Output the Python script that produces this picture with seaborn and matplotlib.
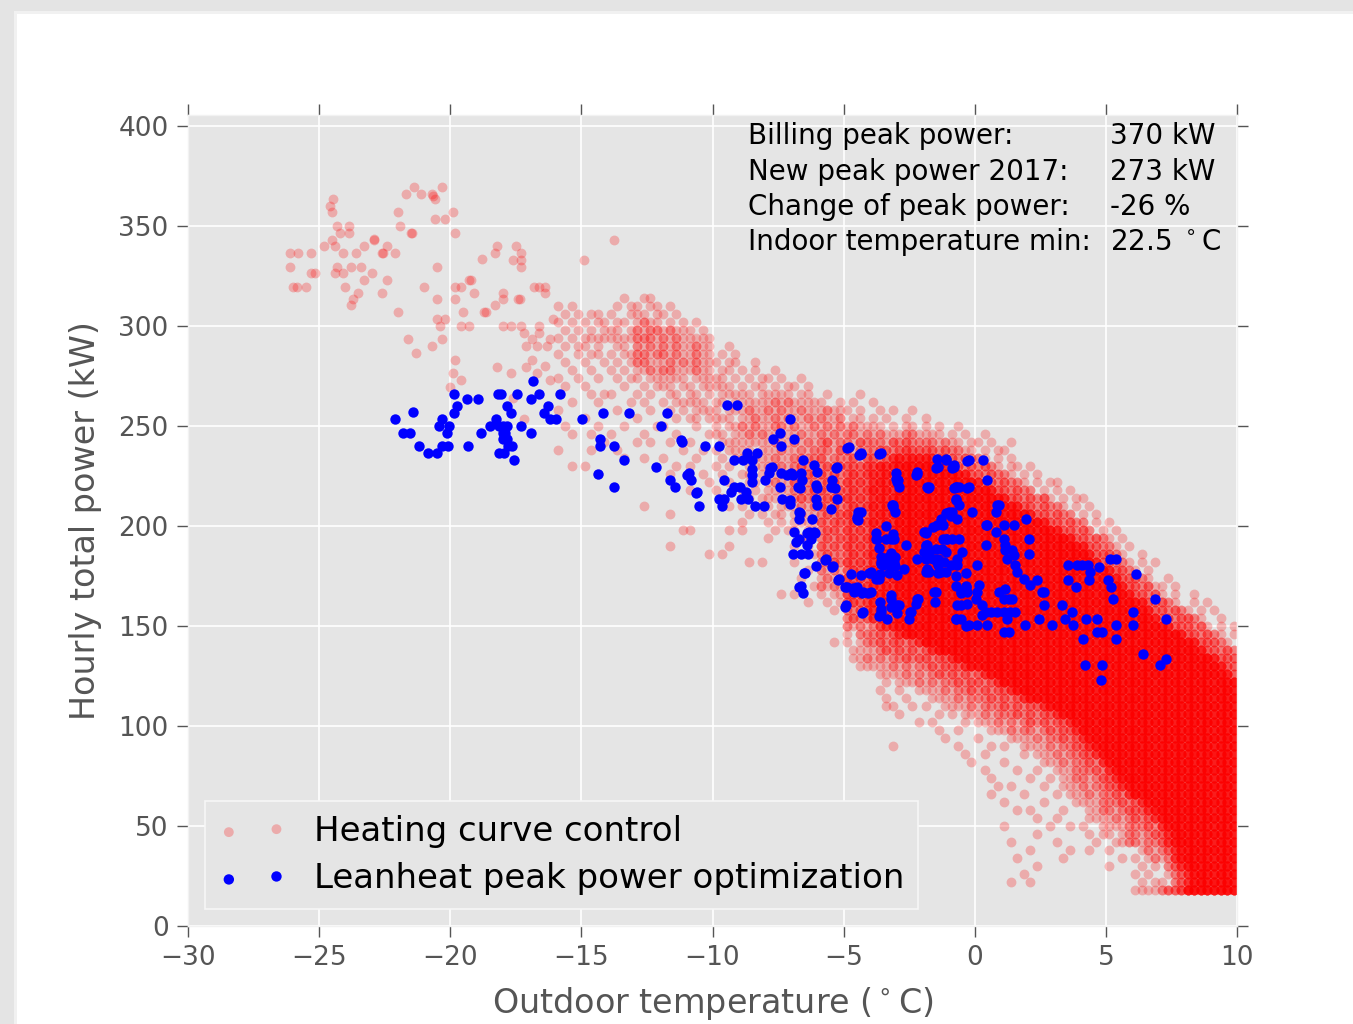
import matplotlib
matplotlib.use("Agg")
import numpy as np
import pandas as pd
import seaborn as sns
import matplotlib.pyplot as plt
from matplotlib.patches import Rectangle

# ------------------------------------------------------------------ data
# Heating curve control: isolated hourly points read individually (cold end)
heat_left_x = [-24.46, -24.57, -24.5, -24.3, -23.85, -24.2, -23.85, -24.5, -24.8, -24.4,
               -26.1, -25.8, -25.3, -24.1, -23.6, -23.3, -22.9, -22.9, -22.6, -22.55,
               -22.4, -22.1, -26.1, -24.3, -23.8, -23.4, -25.3, -25.15, -24.4, -24.1,
               -23.0, -26.0, -25.85, -25.5, -24.0, -23.3, -22.4, -23.5, -23.7, -23.8,
               -22.6, -22.0, -21.4, -21.7, -21.1, -20.7, -20.66, -20.3, -20.6, -22.0,
               -19.9, -20.6, -20.2, -21.9, -21.5, -21.45, -19.8, -20.5, -21.0, -19.8,
               -20.5, -19.8, -20.5, -20.2, -20.4, -21.6, -20.7, -20.3, -21.3, -19.8,
               -19.9, -19.6, -20.0, -17.6, -17.2, -19.6, -19.3, -19.2, -19.1, -19.5,
               -19.6, -19.3, -18.8, -18.3, -18.2, -17.6, -17.5, -17.3, -17.3, -17.3,
               -16.8, -16.6, -16.4, -16.4, -17.4, -17.35, -18.0, -18.3, -18.0, -18.7,
               -18.65, -18.0, -17.7, -17.3, -16.6, -16.1, -17.2, -16.9, -16.6, -16.2,
               -17.1, -16.7, -16.3, -18.2, -17.7, -17.1, -16.7, -16.2, -16.9, -16.4,
               -14.9, -13.75, -3.1, -3.4]
heat_left_y = [363.5, 360, 357, 350, 350, 346.7, 346.7, 343, 340, 340,
               336.5, 336.5, 336.5, 336.5, 336.5, 340, 343, 343.5, 336.5, 336.5,
               340, 336.5, 329.7, 329.7, 329.7, 329.7, 326.3, 326.3, 326.3, 326.3,
               326.3, 319.7, 319.7, 319.7, 319.7, 323, 323, 316.3, 313.7, 310.3,
               316.3, 306.8, 369.5, 366, 366, 366, 365, 369.5, 363.5, 356.8,
               356.8, 353.5, 353.5, 350, 346.7, 346.7, 346.7, 329.7, 319.7, 319.7,
               313.7, 313.7, 303.5, 303.5, 300, 293.3, 290, 293.3, 286.7, 283.2,
               276.3, 273, 269.7, 263.8, 253.5, 319.7, 323, 323, 316.3, 306.8,
               300, 300, 333.3, 336.5, 340, 333.2, 340, 336.5, 333.2, 329.7,
               319.7, 319.7, 319.7, 316.3, 313.7, 313.7, 316.3, 310.3, 313.7, 306.8,
               306.8, 300, 300, 300, 300, 303.5, 296.7, 293.3, 296.7, 293.3,
               290, 290, 290, 279.7, 276.3, 279.7, 276.3, 273, 283, 280,
               333, 343, 90, 110]

# Heating curve control, -16..-6 degC: hourly counts per 0.25 degC x 4 kW cell
# (rows from 314 kW down to 162 kW, columns from -15.875 degC)
heat_mid_x0 = -15.875
heat_mid_ytop = 314.0
heat_mid_rows = [
    "0000 0000 0010 0110 0000 0000 0000 0000 0000 0000",
    "1010 0000 0101 1011 0100 0000 0000 0000 0000 0000",
    "0101 0110 1001 1101 1010 0000 0000 0000 0000 0000",
    "1010 1011 0110 1211 0101 0100 0000 0000 0000 0000",
    "0101 0101 1101 2122 1211 1010 0000 0000 0000 0000",
    "1010 1111 1111 2221 2121 1111 0000 0000 0000 0000",
    "0101 1010 0110 2121 2121 1211 0010 0000 0000 0000",
    "1001 0110 1011 2212 2121 1211 0101 0000 0000 0000",
    "0100 1001 0101 2211 1212 1211 1011 0010 0000 0000",
    "0010 0100 1010 1121 2211 1211 0110 1010 0100 0000",
    "1001 0010 0101 1011 1111 0111 1101 0101 1010 0100",
    "0100 1000 0010 0101 1101 1011 1110 1011 0101 1010",
    "0000 0101 1000 1010 0110 1101 0111 1101 1111 0110",
    "0010 0010 0001 0100 1011 1110 1101 1111 1212 1111",
    "1000 0000 0100 0010 0101 0111 1011 1211 2121 1211",
    "0000 1000 0000 1000 0010 1101 1110 1121 1212 1121",
    "0100 0010 0010 0001 1000 0100 1011 2121 1221 2112",
    "0010 0100 1000 0100 0010 0001 1101 1212 1111 1211",
    "0000 0001 0000 1010 0100 1000 0111 1111 1211 2121",
    "1000 0100 0100 0000 0001 0010 1011 1101 1121 1212",
    "0000 0000 0010 0100 1000 0100 0101 1111 1211 2222",
    "0010 1000 0000 0000 0010 1000 1010 0111 1121 2322",
    "0000 0010 0000 0000 0100 0010 0100 1101 1111 2232",
    "0000 0000 0000 0000 0000 0001 0010 0110 1211 3222",
    "0000 0000 0000 0000 0000 1000 1000 1010 1111 2223",
    "0000 0000 0000 0000 0000 0000 0100 0101 1101 2322",
    "0000 0000 0000 0100 0000 0000 0010 1010 1011 1212",
    "0000 0000 0000 0000 0100 0000 0000 0101 0110 1211",
    "0000 0000 0000 0000 0000 0000 0000 1000 1010 1111",
    "0000 0000 0000 0000 0001 1000 0010 1000 0101 1011",
    "0000 0000 0000 0000 0000 0000 0000 0000 1000 0110",
    "0000 0000 0000 0000 0100 0000 0010 0000 0000 1010",
    "0000 0000 0000 0000 0000 0001 0100 0000 0000 0101",
    "0000 0000 0000 0000 0000 0000 0000 0101 0000 1000",
    "0000 0000 0000 0000 0000 0000 0000 0000 0000 0010",
    "0000 0000 0000 0000 0000 0000 0000 0000 0000 0100",
    "0000 0000 0000 0000 0000 0000 0000 0000 0000 0001",
    "0000 0000 0000 0000 0000 0000 0000 0000 0010 1000",
    "0000 0000 0000 0000 0000 0000 0000 0000 0000 0010",
]

# Heating curve control, -6..10 degC: hourly counts per 0.25 degC x 4 kW cell
# (rows from 266 kW down to 18 kW, columns from -5.875 degC)
heat_main_x0 = -5.875
heat_main_ytop = 266.0
heat_main_rows = [
    "0100 0010 0000 0000 0000 0000 0000 0000 0000 0000 0000 0000 0000 0000 0000 0000",
    "1001 0100 1000 0000 0000 0000 0000 0000 0000 0000 0000 0000 0000 0000 0000 0000",
    "1211 1010 0101 0010 0000 0000 0000 0000 0000 0000 0000 0000 0000 0000 0000 0000",
    "2112 0110 1010 0100 1000 0000 0000 0000 0000 0000 0000 0000 0000 0000 0000 0000",
    "1212 1211 1101 0110 1010 0100 0000 0000 0000 0000 0000 0000 0000 0000 0000 0000",
    "2121 2212 1211 1221 1110 1010 0100 0000 0000 0000 0000 0000 0000 0000 0000 0000",
    "2312 2132 2213 2322 2212 1101 1010 0100 0000 0000 0000 0000 0000 0000 0000 0000",
    "2213 3122 2332 3433 3323 2211 0101 1000 0000 0000 0000 0000 0000 0000 0000 0000",
    "3122 2313 3235 6566 6533 3232 2101 0100 0000 0000 0000 0000 0000 0000 0000 0000",
    "2323 3334 4656 7878 8786 3323 2321 0110 1000 0000 0000 0000 0000 0000 0000 0000",
    "3232 3434 5565 8787 7878 8763 3232 2101 0100 0000 0000 0000 0000 0000 0000 0000",
    "2332 4343 5656 7878 8787 7878 6332 3221 0101 1000 0000 0000 0000 0000 0000 0000",
    "3223 3434 6565 8787 7878 8787 7863 3232 2010 1010 0000 0000 0000 0000 0000 0000",
    "2333 4343 5656 7878 8787 7878 8787 6332 3231 0101 1000 0000 0000 0000 0000 0000",
    "3232 3434 6565 8787 7878 8787 7878 8763 3232 2101 0100 0000 0000 0000 0000 0000",
    "2323 4343 5656 7878 8787 7878 8787 7878 6332 3220 1010 0000 0000 0000 0000 0000",
    "3233 3434 6565 8787 7878 8787 7878 8787 7863 3232 2010 1000 0000 0000 0000 0000",
    "2332 4343 5656 7878 8787 7878 8787 7878 8787 6332 3201 0100 0000 0000 0000 0000",
    "2323 3434 6565 8787 7878 8787 7878 8787 7878 7863 3232 1010 0000 0000 0000 0000",
    "3232 4343 5656 7878 8787 7878 8787 7878 8787 8787 6332 2101 0000 0000 0000 0000",
    "2322 3434 6565 8787 7878 8787 7878 8787 7878 7878 8633 3210 0100 0000 0000 0000",
    "2232 4343 5656 7878 8787 7878 8787 7878 8787 8787 7863 3221 0101 0000 0000 0000",
    "2121 3434 6565 8787 7878 8787 7878 8787 7878 7878 8787 6332 1010 0000 0000 0000",
    "1212 4343 5656 7878 8787 7878 8787 7878 8787 8787 7878 8633 3210 0100 0000 0000",
    "2121 3434 6565 8787 7878 8787 7878 8787 7878 7878 8787 7863 3231 1010 0000 0000",
    "1011 4343 5656 7878 8787 7878 8787 7878 8787 8787 7878 8786 3323 1010 0100 0000",
    "0101 3434 6565 8787 7878 8787 7878 8787 7878 7878 8787 7878 7633 3210 0101 0000",
    "0010 2234 5656 7878 8787 7878 8787 7878 8787 8787 7878 8787 8763 3232 1010 1000",
    "0000 2323 5565 8787 7878 8787 7878 8787 7878 7878 8787 7878 7876 3323 3210 0100",
    "0000 2121 2456 7878 8787 7878 8787 7878 8787 8787 7878 8787 7878 7633 3231 0101",
    "0000 1022 2323 5787 7878 8787 7878 8787 7878 7878 8787 7878 8787 8786 3323 2101",
    "0010 1012 2323 3235 8787 7878 8787 7878 8787 8787 7878 8787 7878 7878 7633 3210",
    "0000 0111 1232 3232 3578 8787 7878 8787 7878 7878 8787 7878 8787 8787 8763 3232",
    "0000 0112 1212 2323 3233 5787 8787 7878 8787 8787 7878 8787 7878 7878 7878 6333",
    "0000 0011 1112 1212 2323 3357 7878 8787 7878 7878 8787 7878 8787 8787 8787 8633",
    "0000 0000 0111 1212 1232 3232 3578 7878 8787 8787 7878 8787 7878 7878 7878 8763",
    "0000 0000 0010 1112 1212 2323 3235 8787 7878 7878 8787 7878 8787 8787 8787 7878",
    "0000 0000 0100 1001 1112 1223 2323 3578 8787 8787 7878 8787 7878 7878 7878 8787",
    "0000 0000 0010 0100 0111 1212 2232 3235 7878 7878 8787 7878 8787 8787 8787 7878",
    "0000 0000 0001 0010 1001 1112 1222 3232 3357 8787 7878 8787 7878 7878 7878 8787",
    "0000 0000 0000 1000 0010 1011 1212 2232 3233 5787 8787 7878 8787 8787 8787 7878",
    "0000 0000 0000 0001 0100 0010 1112 1212 3232 3357 7878 8787 7878 7878 7878 8787",
    "0000 0000 0000 0000 0010 0100 0011 1212 2123 2335 8787 7878 8787 8787 8787 7878",
    "0000 0000 0000 0000 0001 0000 1000 0111 1212 2323 5787 8787 7878 7878 7878 8787",
    "0000 0000 0000 0000 0000 0100 0010 1001 1112 1223 3578 7878 8787 8787 8787 7878",
    "0000 0000 0000 0000 0000 0010 0100 0001 0111 2122 3357 8787 7878 7878 7878 8787",
    "0000 0000 0000 0000 0000 0001 0000 1000 0011 1212 2325 7878 8787 8787 8787 7878",
    "0000 0000 0000 0000 0000 0000 0100 0010 0100 1112 2232 5787 7878 7878 7878 8787",
    "0000 0000 0000 0000 0000 0000 0010 0000 1001 0112 2123 3578 8787 8787 8787 7878",
    "0000 0000 0000 0000 0000 0000 0001 0100 0010 0111 2122 3357 7878 7878 7878 8787",
    "0000 0000 0000 0000 0000 0000 0010 0001 0000 1011 1212 2325 8787 8787 8787 7878",
    "0000 0000 0000 0000 0000 0000 0000 1000 0010 0001 1112 2232 3578 7878 7878 8787",
    "0000 0000 0000 0000 0000 0000 0000 0010 1000 0100 0112 2123 3357 8787 8787 7878",
    "0000 0000 0000 0000 0000 0000 0000 0000 0100 1000 0111 1212 3235 7878 7878 8787",
    "0000 0000 0000 0000 0000 0000 0000 1000 0001 0010 1001 1112 2232 5787 8787 7878",
    "0000 0000 0000 0000 0000 0000 0000 0000 0100 0000 0101 1012 2123 3578 7878 8787",
    "0000 0000 0000 0000 0000 0000 0000 0100 0000 1000 0010 0112 2122 3578 8787 7878",
    "0000 0000 0000 0000 0000 0000 0000 0000 1000 0010 0100 1000 0121 2357 7878 8787",
    "0000 0000 0000 0000 0000 0000 0000 0010 0000 0100 0000 0010 1012 1257 8787 7878",
    "0000 0000 0000 0000 0000 0000 0000 0000 0100 0000 0000 1000 0101 0235 7878 8787",
    "0000 0000 0000 0000 0000 0000 0000 0001 0000 0000 0000 0000 1010 0123 5787 7878",
    "0000 0000 0000 0000 0000 0000 0000 0100 1000 0000 0000 0000 0101 1023 5787 8787",
    "0000 0000 0000 0000 0000 0000 0000 0000 0000 0000 0000 0000 1111 2334 8888 8888",
]
grid_dx = 0.25
grid_dy = 4.0

# Leanheat peak power optimization: individual hourly points
lean_x = [-22.12, -21.43, -21.81, -21.53, -21.18, -20.83, -20.52, -20.33, -20.1, -20.33,
          -20.42, -20.04, -20.13, -19.87, -19.75, -19.87, -19.37, -18.94, -19.32, -18.84,
          -18.48, -18.27, -18.17, -18.05, -17.83, -17.67, -18.14, -18.0, -18.0, -17.9,
          -17.98, -17.83, -17.8, -17.64, -18.14, -17.95, -17.57, -17.83, -17.32, -17.45,
          -16.92, -16.86, -16.92, -16.6, -16.28, -16.43, -16.2, -15.95, -15.83, -14.99,
          -14.29, -14.29, -14.35,
          -14.16, -13.17, -11.75, -11.98, -13.75, -13.37, -13.75, -12.14, -11.62, -11.44,
          -10.9, -10.83, -10.6, -10.51, -11.19, -10.27, -9.75, -9.43, -9.05, -9.56,
          -9.74, -9.56, -9.64, -9.18, -8.82, -8.67, -8.29, -8.48, -8.48, -8.48,
          -8.48, -9.18, -8.95, -8.74, -9.31, -8.93, -8.65, -8.39, -8.04, -8.01,
          -7.85, -7.72, -7.4, -7.02, -7.44, -7.34, -7.05, -7.68, -7.38, -7.43,
          -7.05, -6.89, -6.54, -6.64, -6.58, -6.74, -6.7, -6.7, -6.89, -6.7,
          -6.32, -6.13, -6.38, -6.26, -6.92, -6.64, -6.35, -6.2, -6.49, -6.64,
          -6.54, -6.07, -5.69, -5.39, -5.18, -4.89, -4.61, -4.92, -6.13, -6.0,
          -6.07, -6.07, -6.0, -5.43, -5.5, -5.27, -5.24, -5.5, -4.8, -4.35,
          -3.65, -3.02, -2.95, -3.14, -4.48, -4.35, -1.43, -1.11, -0.79, -1.81,
          -0.73, -2.19, -3.72, -3.4, -3.08, -3.59, -3.27, -3.08, -4.35, -4.03,
          -2.95, -2.7, -2.19, -1.94, -1.81, -1.81, -1.43, -1.18, -1.05, -0.86,
          -1.43, -3.6, -3.2, -2.95, -2.45, -2.2, -1.56, -1.5,
          -11.17, -10.98, -10.63, -7.8, -7.17, -6.92, -6.66, -6.03, -5.33, -7.04,
          -6.66, -5.3, -4.86, -4.41, -3.01, -2.25, -1.49, -0.85, -0.28, -1.8,
          -0.8, -0.28, -3.1, -0.73, -1.1, -0.92, -0.66, -6.8, -6.4, -6.1,
          -6.53, -6.72, -5.7, -5.45, -5.2, -4.94, -4.63, -4.3, -4.06, -4.94,
          -4.3, -3.77, -3.39, -3.64, -3.2, -3.96, -3.65, -3.26, -3.65, -3.33,
          -2.95, -2.25, -2.5, -1.87, -1.87, -1.49, -1.24, -1.42, -0.73, -0.73,
          -0.54, -0.35, -0.35, -0.73, -0.35,
          -4.32, -3.59, -2.2, -2.93, -2.87, -1.73, -3.12, -3.06, -4.44, -4.5,
          -4.44, -1.41, -1.1, -0.78, -0.21, 0.32, 0.45, -0.72, -0.59, -0.21,
          -0.72, -0.59, -0.97, -0.85, -1.29, -1.22, -1.6, -1.86, -0.09, 0.86,
          0.92, 0.8, 0.42, 0.8, 1.11, 1.49, 1.97, -3.75, -3.12, -3.18,
          -2.61, -1.92, -1.86, -1.73, -1.22, -1.1, -1.1, -0.47, -0.59, -3.56,
          -3.31, -3.06, -3.56, -3.31, -3.06, -1.86, -1.6, -1.41, -1.41, -1.73,
          -1.86, -1.29, -1.1, -0.66, -0.91, -0.66, 0.1, 0.42, 0.48, 1.17,
          1.43, 1.24, 1.49, 1.55, 2.06, 2.06, 1.62, 1.87, 2.12, -4.7,
          -4.5, -4.25, -3.94, -3.94, -3.75, -3.62, -3.5, -3.18, -4.25, -3.56,
          -3.56, -3.18, -2.87, -2.42, -3.18, -2.17, -1.48, -0.53, -0.34, -0.28,
          -0.66, -0.53, -0.28, -0.72, -0.53, -0.21, 0.1, 0.48, 0.04, 0.1,
          0.16, 0.29, 0.42, 0.61, 0.29, 0.92, 1.17, 1.3, 1.11, 1.43,
          0.86, 1.11, 1.36, 1.55, 1.24, 1.11, 1.3, 1.93, 2.44, 2.56,
          2.63, 2.94, 3.32, 3.45, 3.7, 3.76, 4.14, 4.24, 4.65, 4.65,
          4.84, 4.2, 4.84, 4.8, 3.57, 3.89, 4.08, 4.33, 3.57, 3.86,
          4.36, 4.39, 4.75, 5.09, 5.21, 5.15, 5.4, 5.28, 5.4, 5.4,
          6.04, 6.04, 6.16, 6.41, 6.86, 7.3, 7.05, 7.3, 1.11, 1.17,
          2.37, 2.63]
lean_y = [253.3, 257, 246.7, 246.7, 239.8, 236.3, 236.3, 239.8, 239.8, 253.3,
          250, 250, 246.7, 266, 260, 256.7, 263.3, 263.3, 239.8, 246.7,
          250, 253.3, 266, 266, 260, 256.7, 250, 250, 246.7, 246.7,
          243.3, 243.3, 239.8, 239.8, 236.3, 236.3, 233, 250, 250, 266,
          263.3, 272.7, 246.7, 266, 260, 256.7, 253.3, 253.3, 266, 253.3,
          243.3, 239.8, 226.2,
          256.7, 256.7, 256.7, 250, 240, 233.2, 219.5, 229.7, 223, 219.5,
          226.3, 223, 217, 210.2, 243.2, 239.8, 239.8, 260.3, 260.3, 223,
          213.7, 213.7, 210.2, 233.2, 233.2, 236.5, 236.5, 232.8, 228.7, 225.3,
          222, 219.5, 219.5, 217, 217, 213.7, 213.7, 210.2, 210.2, 223,
          226.3, 229.7, 226.3, 226.3, 219.5, 213.7, 211.2, 243.3, 239.8, 246.5,
          253.3, 243.3, 233.2, 226.3, 223, 219.5, 207, 203.7, 197, 193.7,
          197, 197, 190.3, 193.7, 186.2, 186.2, 186.2, 203.7, 176.7, 170,
          166.7, 180, 183.3, 180, 173.3, 169.5, 167, 160.3, 230.3, 227,
          220.3, 213.7, 210.3, 222.8, 219.5, 229.5, 213.7, 208.7, 239.5, 236.2,
          236.2, 226.7, 222, 210.3, 203.7, 207, 233.3, 233.3, 230.3, 219.5,
          219.5, 227, 193.7, 193.7, 193.7, 182, 182, 182, 175.3, 176.5,
          175.3, 178.7, 183.7, 187, 190.3, 178.7, 182, 182, 193.7, 193.7,
          200.3, 162, 165.3, 160.3, 157, 163.7, 167, 162,
          242.2, 225.5, 216.3, 228.8, 225.5, 225.5, 218.8, 218.8, 218.8, 213,
          206.7, 229.2, 239, 235.7, 223.3, 225.5, 229, 229, 232.5, 218.8,
          218.8, 218.8, 209.7, 213.2, 206.7, 205, 203.3, 192, 196.7, 196.7,
          176.3, 169.7, 183, 179.7, 173, 169.7, 168.8, 166.3, 166.3, 159.7,
          156.7, 196.7, 200, 189, 186.7, 176.7, 173.3, 176.7, 155, 153.3,
          156.7, 160.8, 153.3, 196.7, 190, 188.3, 188.3, 176.7, 175, 170,
          166.7, 176.7, 170, 153.3, 150,
          236.5, 236.5, 226.2, 222.8, 219.5, 219.5, 210.3, 207, 207, 204.5,
          202.8, 229.5, 232.8, 229.5, 232.8, 232.8, 222.8, 219.5, 219.5, 219.5,
          213.7, 210.3, 207, 207, 203.7, 200.3, 199.5, 197, 207, 210.3,
          210.3, 207, 200.3, 197, 200.3, 200.3, 203.7, 193.7, 196.2, 193.7,
          190.3, 197, 190.3, 187, 193.7, 193.7, 187, 187, 193.7, 184.5,
          184.5, 184.5, 181, 181, 180, 183.7, 183.7, 183.7, 180.3, 177,
          177, 177, 177, 183.7, 180.3, 180.3, 180.3, 190.3, 200.3, 187.8,
          187.8, 183.7, 185.3, 180.3, 193.7, 186.2, 177, 173.7, 170.3, 176.2,
          169.5, 167, 167, 177, 173.7, 176.2, 180.3, 180.3, 157, 158.7,
          157, 159.5, 160.3, 157, 163.7, 163.7, 167, 167, 169.5, 167,
          160.3, 160.3, 161, 153.7, 153.7, 150.3, 150.3, 150.3, 163.7, 167,
          170.3, 160.3, 157, 157, 155.3, 167, 168.7, 163.7, 163.7, 163.7,
          157, 157, 157, 157, 153.7, 147, 147, 150.3, 153.7, 167,
          160.3, 150.3, 160.3, 153.7, 157, 150.3, 143.7, 153.7, 153.7, 147,
          147, 130.3, 130.3, 122.8, 180.3, 180.3, 180.3, 180.3, 172.8, 169.5,
          172.8, 177, 179.5, 172.8, 169.5, 183.7, 183.7, 163.7, 150.3, 143.7,
          157, 150.3, 176.2, 136.2, 163.7, 153.7, 130.3, 133.7, 193.7, 190.3,
          172.8, 167]

x_ticks = [-30, -25, -20, -15, -10, -5, 0, 5, 10]
y_ticks = [0, 50, 100, 150, 200, 250, 300, 350, 400]
series_labels = ["Heating curve control", "Leanheat peak power optimization"]
info_labels = ["Billing peak power:", "New peak power 2017:",
               "Change of peak power:", "Indoor temperature min:"]
info_values = ["370 kW", "273 kW", "-26 %", "22.5 $^\\circ$C"]


def expand_counts(rows, x0, ytop, dx, dy):
    xs, ys = [], []
    for r, row in enumerate(rows):
        digits = row.replace(" ", "")
        for c, ch in enumerate(digits):
            n = int(ch)
            if n:
                xs.extend([x0 + c * dx] * n)
                ys.extend([ytop - r * dy] * n)
    return xs, ys


mx, my = expand_counts(heat_mid_rows, heat_mid_x0, heat_mid_ytop, grid_dx, grid_dy)
gx, gy = expand_counts(heat_main_rows, heat_main_x0, heat_main_ytop, grid_dx, grid_dy)
heat = pd.DataFrame({"temp": heat_left_x + mx + gx, "power": heat_left_y + my + gy})
lean = pd.DataFrame({"temp": lean_x, "power": lean_y})

# ------------------------------------------------------------------ style
sns.set_theme(style="white")
plt.rcParams["font.family"] = ["DejaVu Sans"]
plt.rcParams["mathtext.fontset"] = "dejavusans"

W, H = 1353, 1024
fig = plt.figure(figsize=(W / 100, H / 100), dpi=100)
fig.patch.set_facecolor("white")

# screenshot frame (light grey band at the left and top)
fig.patches.append(Rectangle((0, 0), 14 / W, 1, transform=fig.transFigure,
                             facecolor="#E4E4E4", edgecolor="none", zorder=0))
fig.patches.append(Rectangle((14 / W, 0), 3 / W, 1 - 14 / H, transform=fig.transFigure,
                             facecolor="#F1F1F1", edgecolor="none", zorder=0))
fig.patches.append(Rectangle((0, 1 - 11 / H), 1, 11 / H, transform=fig.transFigure,
                             facecolor="#E4E4E4", edgecolor="none", zorder=0))
fig.patches.append(Rectangle((14 / W, 1 - 14 / H), 1, 3 / H, transform=fig.transFigure,
                             facecolor="#F1F1F1", edgecolor="none", zorder=0))

ax = fig.add_axes([188 / W, 98 / H, 1049 / W, 811 / H])
ax.set_facecolor("#E5E5E5")
ax.grid(True, color="white", linewidth=1.2)
ax.set_axisbelow(True)
for sp in ax.spines.values():
    sp.set_color("#F2F2F2")
    sp.set_linewidth(1.0)

sns.scatterplot(data=heat, x="temp", y="power", ax=ax, color="red", alpha=0.25,
                s=50, linewidth=0, label=series_labels[0], legend=False, zorder=2)
sns.scatterplot(data=lean, x="temp", y="power", ax=ax, color="blue", alpha=1.0,
                s=56, linewidth=0, label=series_labels[1], legend=False, zorder=3)

ax.set_xlim(-30, 10)
ax.set_ylim(0, 405.5)
ax.set_xticks(x_ticks)
ax.set_yticks(y_ticks)
ax.set_xticklabels([str(v).replace("-", "\u2212") for v in x_ticks])
ax.set_yticklabels([str(v) for v in y_ticks])
ax.tick_params(axis="both", which="major", direction="out", length=8, width=1,
               color="#555555", labelcolor="#555555", labelsize=19,
               top=True, right=True, bottom=True, left=True,
               labeltop=False, labelright=False, pad=6)

ax.set_xlabel("Outdoor temperature ($^\\circ$C)", fontsize=24, color="#555555", labelpad=10)
ax.set_ylabel("Hourly total power (kW)", fontsize=24, color="#555555", labelpad=12)

leg = ax.legend(loc="lower left", scatterpoints=2, fontsize=24.5, frameon=True,
                fancybox=False, borderpad=0.4, labelspacing=0.42, handlelength=2.0,
                handletextpad=0.8, borderaxespad=0.5)
leg.get_frame().set_facecolor("#E5E5E5")
leg.get_frame().set_edgecolor("#F7F7F7")
leg.get_frame().set_linewidth(1.2)
leg.get_frame().set_alpha(1.0)
for t in leg.get_texts():
    t.set_color("black")

base_y = [0.9639, 0.9198, 0.8767, 0.8335]
for lab, val, yy in zip(info_labels, info_values, base_y):
    ax.text(0.534, yy, lab, transform=ax.transAxes, fontsize=20, color="black",
            va="baseline", ha="left", zorder=5)
    ax.text(0.879, yy, val, transform=ax.transAxes, fontsize=20, color="black",
            va="baseline", ha="left", zorder=5)

fig.savefig("out.png", dpi=100, facecolor="white")
